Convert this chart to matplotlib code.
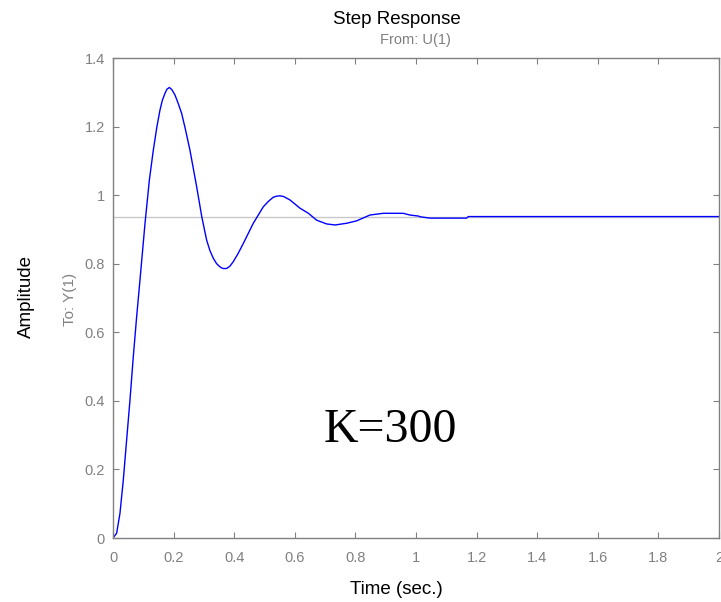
import numpy as np
import matplotlib
matplotlib.use("Agg")
import matplotlib.pyplot as plt

# step response (K=300)
t = [0, 0.012, 0.023, 0.034, 0.045, 0.056, 0.067, 0.078, 0.089, 0.1057,
     0.120, 0.133, 0.145, 0.155, 0.163, 0.1716, 0.178, 0.186, 0.194, 0.2046,
     0.215, 0.2267, 0.240, 0.254, 0.276, 0.293, 0.309, 0.320, 0.331, 0.342,
     0.353, 0.358, 0.364, 0.375, 0.386, 0.397, 0.413, 0.430, 0.463, 0.496,
     0.513, 0.529, 0.540, 0.551, 0.563, 0.584, 0.617, 0.645, 0.672, 0.705,
     0.733, 0.771, 0.804, 0.848, 0.892, 0.958, 0.980, 1.008, 1.013, 1.046,
     1.167, 1.173, 2.0]
y = [0, 0.014, 0.072, 0.169, 0.286, 0.402, 0.529, 0.645, 0.752, 0.918,
     1.044, 1.131, 1.200, 1.248, 1.277, 1.297, 1.309, 1.314, 1.308, 1.292,
     1.268, 1.238, 1.188, 1.131, 1.025, 0.937, 0.869, 0.838, 0.816, 0.800,
     0.791, 0.788, 0.786, 0.786, 0.793, 0.806, 0.830, 0.859, 0.918, 0.966,
     0.982, 0.994, 0.997, 0.998, 0.996, 0.986, 0.962, 0.947, 0.927, 0.916,
     0.913, 0.918, 0.925, 0.942, 0.947, 0.947, 0.942, 0.939, 0.937, 0.933,
     0.933, 0.9375, 0.9375]
y_final = 0.9375

x_ticks = [0, 0.2, 0.4, 0.6, 0.8, 1, 1.2, 1.4, 1.6, 1.8, 2]
y_ticks = [0, 0.2, 0.4, 0.6, 0.8, 1, 1.2, 1.4]

plt.rcParams['font.family'] = ['Liberation Sans', 'DejaVu Sans']

W, H = 721, 602
fig = plt.figure(figsize=(W / 100, H / 100), dpi=100)
ax = fig.add_axes([113 / W, (H - 538) / H, (719 - 113) / W, (538 - 58) / H])

gray = '#808080'
ax.axhline(y_final, color='#c8c8c8', lw=1.0, zorder=1)
ax.plot(t, y, color='#0000ff', lw=1.0, zorder=2)

ax.set_xlim(0, 2)
ax.set_ylim(0, 1.4)
ax.set_xticks(x_ticks)
ax.set_yticks(y_ticks)
ax.set_xticklabels([f"{v:g}" for v in x_ticks])
ax.set_yticklabels([f"{v:g}" for v in y_ticks])
ax.tick_params(direction='in', length=4, width=0.8, color=gray,
               labelcolor=gray, labelsize=10.5, top=True, right=True, pad=6)
ax.tick_params(axis='x', pad=9)
for lab in ax.get_xticklabels():
    lab.set_clip_on(False)
for s in ax.spines.values():
    s.set_color(gray)
    s.set_linewidth(1.0)

ax.text(0.914, 0.28, "K=300", family='Liberation Serif', fontsize=34.5,
        ha='center', va='baseline', color='black')

fig.text(397 / W, 1 - 19 / H, "Step Response", fontsize=13.5, ha='center', va='center')
fig.text(415 / W, 1 - 40 / H, "From: U(1)", fontsize=10.5, color=gray, ha='center', va='center')
fig.text(396 / W, 1 - 590 / H, "Time (sec.)", fontsize=13.5, ha='center', va='center')
fig.text(26 / W, 1 - 296 / H, "Amplitude", fontsize=13.5, rotation=90, ha='center', va='center')
fig.text(70 / W, 1 - 299 / H, "To: Y(1)", fontsize=11, color=gray, rotation=90, ha='center', va='center')

fig.savefig("out.png", dpi=100)
